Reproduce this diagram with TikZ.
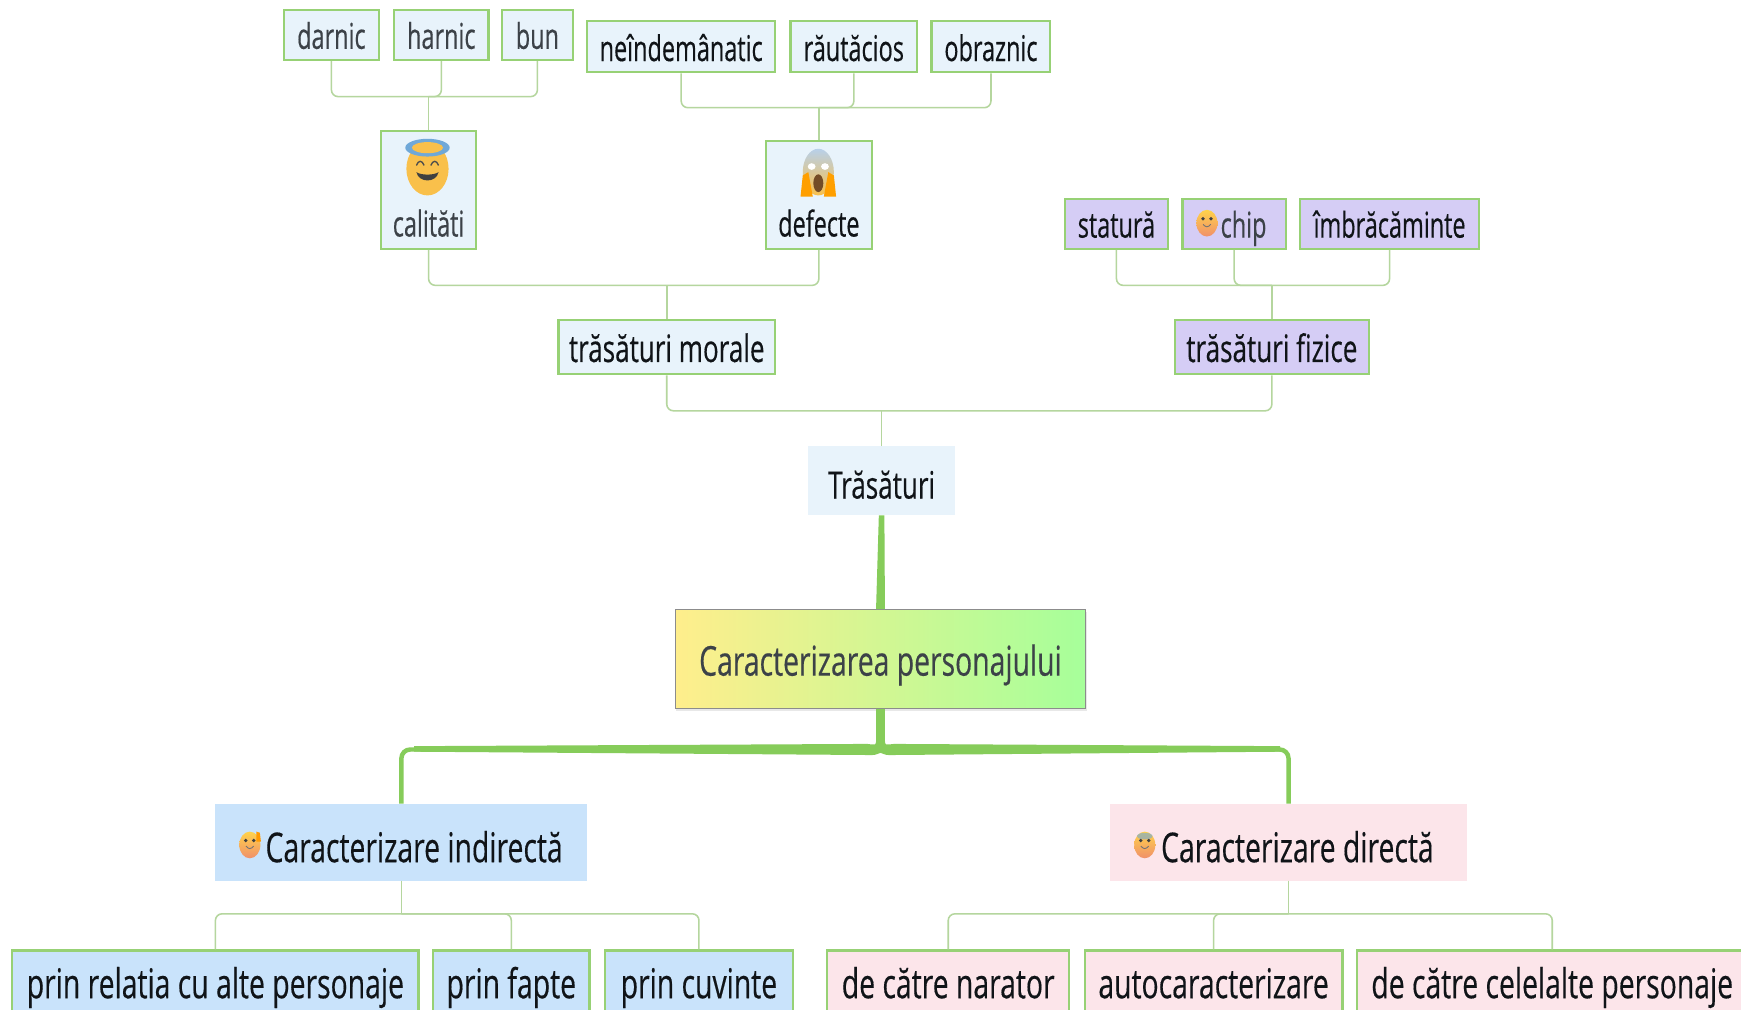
\documentclass[tikz,border=0pt]{standalone}
\usepackage{fontspec}
\setmainfont{Open Sans}
\newfontfamily\fsmall{Open Sans}[FakeStretch=0.66,FakeBold=0.35]
\newfontfamily\fbig{Open Sans}[FakeStretch=0.69,FakeBold=0.35]
\usetikzlibrary{calc,shadows}
\definecolor{paleblue}{HTML}{E8F3FB}
\definecolor{midblue}{HTML}{C9E3FB}
\definecolor{palepink}{HTML}{FCE5EA}
\definecolor{lilac}{HTML}{D5CDF5}
\definecolor{edgegreen}{HTML}{97D175}
\definecolor{thingreen}{HTML}{B5D69E}
\definecolor{trunkgreen}{HTML}{86CC5A}
\definecolor{inkdark}{HTML}{101418}
\definecolor{inksoft}{HTML}{3C4248}
\definecolor{facetop}{HTML}{FFD24A}
\definecolor{facebot}{HTML}{F0906A}
\definecolor{halofill}{HTML}{F9C04B}
\definecolor{haloblue}{HTML}{6FA8D8}
\definecolor{hood}{HTML}{B8D0EA}
\definecolor{gradleft}{HTML}{FFEE8C}
\definecolor{gradmid}{HTML}{D8F594}
\definecolor{gradright}{HTML}{A6FF9A}
\tikzset{
  x=1pt,y=-1pt,
  box/.style={draw=edgegreen,line width=2pt,inner sep=0pt,text depth=10pt,text=inkdark,align=center},
  plain/.style={inner sep=0pt,text depth=10pt,text=inkdark,align=center},
  small/.style={font=\fsmall\fontsize{32}{36}\selectfont},
  medium/.style={font=\fbig\fontsize{34}{38}\selectfont},
  big/.style={font=\fbig\fontsize{37}{42}\selectfont},
  conn/.style={draw=thingreen,line width=1.4pt,rounded corners=6pt},
  trunk/.style={draw=trunkgreen,line width=4pt,rounded corners=8pt},
  taper/.style={fill=trunkgreen,draw=none},
}
\newcommand{\ballface}[2]{%
  \shade[top color=facetop,bottom color=facebot] (#1) ellipse[x radius=9.5,y radius=12];
  \fill[black!75] ($(#1)+(-3.6,-4)$) circle[radius=1.7] ($(#1)+(3.6,-4)$) circle[radius=1.7];
  \draw[black!55,line width=.8pt] ($(#1)+(-3.5,1)$) .. controls ($(#1)+(-1,4)$) and ($(#1)+(1,4)$) .. ($(#1)+(3.5,1)$);
}
\begin{document}
\begin{tikzpicture}
\useasboundingbox (0,0) rectangle (1568,909.6);
\fill[white] (0,0) rectangle (1568,909.6);
% buses
\coordinate (busA) at (386,87);
\coordinate (busB) at (737.5,97);
\coordinate (busC) at (600.5,257);
\coordinate (busD) at (1145.5,257);
\coordinate (busE) at (794,370);
\coordinate (busF) at (361.5,823);
\coordinate (busG) at (1160.5,823);
% top leaves
\node[box,small,text height=35pt,fill=paleblue,text=inksoft,minimum width=85,minimum height=45] (darnic) at (298.5,31.5) {darnic};
\node[box,small,text height=35pt,fill=paleblue,text=inksoft,minimum width=85,minimum height=45] (harnic) at (397.5,31.5) {harnic};
\node[box,small,text height=35pt,fill=paleblue,text=inksoft,minimum width=64,minimum height=45] (bun) at (484,31.5) {bun};
\node[box,small,text height=36pt,fill=paleblue,minimum width=169,minimum height=46] (neind) at (613.5,42) {neîndemânatic};
\node[box,small,text height=36pt,fill=paleblue,minimum width=114,minimum height=46] (raut) at (769,42) {răutăcios};
\node[box,small,text height=36pt,fill=paleblue,minimum width=107,minimum height=46] (obraz) at (892.5,42) {obraznic};
\node[box,small,fill=paleblue,text=inksoft,minimum width=86,minimum height=106,text height=95pt,text depth=11pt] (calitati) at (386,171) {calităti};
\node[box,small,fill=paleblue,minimum width=95,minimum height=97,text height=86pt,text depth=11pt] (defecte) at (737.5,175.5) {defecte};
\node[box,small,text height=35pt,fill=lilac,minimum width=93,minimum height=45] (statura) at (1005.5,201.5) {statură};
\node[box,small,text height=35pt,fill=lilac,text=inksoft,minimum width=93,minimum height=45] (chip) at (1111.5,201.5) {\hspace*{17pt}chip};
\node[box,small,text height=35pt,fill=lilac,minimum width=161,minimum height=45] (imbr) at (1251.5,201.5) {îmbrăcăminte};
\node[box,medium,text height=37pt,fill=paleblue,minimum width=195,minimum height=49] (morale) at (600.5,312.5) {trăsături morale};
\node[box,medium,text height=37pt,fill=lilac,minimum width=175,minimum height=49] (fizice) at (1145.5,312.5) {trăsături fizice};
\node[plain,medium,text height=42pt,fill=paleblue,minimum width=132,minimum height=62] (trasaturi) at (794,433) {Trăsături};
\node[draw=black!45,line width=.8pt,inner sep=0pt,left color=gradleft,middle color=gradmid,right color=gradright,
  drop shadow={opacity=.18,shadow xshift=1pt,shadow yshift=-2pt},text=inksoft,text height=40pt,text depth=10pt,big,minimum width=370,minimum height=89] (central) at (793,593.5) {Caracterizarea personajului};
\node[plain,big,text height=46pt,fill=midblue,minimum width=335,minimum height=69] (indirect) at (361.5,758.5) {\hspace*{23pt}Caracterizare indirectă};
\node[plain,big,text height=46pt,fill=palepink,minimum width=321,minimum height=69] (direct) at (1160.5,758.5) {\hspace*{16pt}Caracterizare directă};
\node[box,big,text height=32pt,fill=midblue,minimum width=366,minimum height=64] (relatia) at (194,888) {prin relatia cu alte personaje};
\node[box,big,text height=32pt,fill=midblue,minimum width=141,minimum height=64] (fapte) at (460.5,888) {prin fapte};
\node[box,big,text height=32pt,fill=midblue,minimum width=169,minimum height=64] (cuvinte) at (629.5,888) {prin cuvinte};
\node[box,big,text height=32pt,fill=palepink,minimum width=218,minimum height=64] (narator) at (854,888) {de către narator};
\node[box,big,text height=32pt,fill=palepink,minimum width=232,minimum height=64] (auto) at (1093,888) {autocaracterizare};
\node[box,big,text height=32pt,fill=palepink,minimum width=352,minimum height=64] (celelalte) at (1398,888) {de către celelalte personaje};
\draw[conn] (darnic.south) |- (busA) -| (bun.south);
\draw[conn] (harnic.south) |- (busA);
\draw[conn] (calitati.north) -- (busA);
\draw[conn] (neind.south) |- (busB) -| (obraz.south);
\draw[conn] (raut.south) |- (busB);
\draw[conn] (defecte.north) -- (busB);
\draw[conn] (calitati.south) |- (busC) -| (defecte.south);
\draw[conn] (morale.north) -- (busC);
\draw[conn] (statura.south) |- (busD) -| (imbr.south);
\draw[conn] (chip.south) |- (busD);
\draw[conn] (fizice.north) -- (busD);
\draw[conn] (morale.south) |- (busE) -| (fizice.south);
\draw[conn] (trasaturi.north) -- (busE);
\draw[conn] (indirect.south) -- (busF);
\draw[conn] (relatia.north) |- (busF) -| (cuvinte.north);
\draw[conn] (fapte.north) |- (busF);
\draw[conn] (direct.south) -- (busG);
\draw[conn] (narator.north) |- (busG) -| (celelalte.north);
\draw[conn] (auto.north) |- (busG);
% thick branches
\coordinate (hub) at (793,675);
\draw[trunk] (indirect.north) |- (hub);
\draw[trunk] (direct.north) |- (hub);
\fill[taper] ($(trasaturi.south)+(-2.5,0)$) -- ($(trasaturi.south)+(2.5,0)$) -- ($(central.north)+(4,0)$) -- ($(central.north)+(-4,0)$) -- cycle;
\fill[taper] ($(central.south)+(-4,0)$) -- ($(central.south)+(4,0)$) -- ($(hub)+(4,-8)$) .. controls ($(hub)+(4,-4)$) .. ($(hub)+(12,-5)$) -- ($(hub)+(360,-3)$) -- ($(hub)+(360,2)$) -- ($(hub)+(10,5)$) .. controls ($(hub)+(5,5)$) .. ($(hub)+(0,3)$) .. controls ($(hub)+(-5,5)$) .. ($(hub)+(-10,5)$) -- ($(hub)+(-420,2)$) -- ($(hub)+(-420,-3)$) -- ($(hub)+(-12,-5)$) .. controls ($(hub)+(-4,-4)$) .. ($(hub)+(-4,-8)$) -- cycle;
% halo face
\fill[halofill] (385,152) ellipse[x radius=19,y radius=24];
\fill[haloblue] (385,133) ellipse[x radius=20,y radius=8];
\fill[halofill] (385,133) ellipse[x radius=14,y radius=5];
\draw[black!70,line width=1.2pt] (375,149) .. controls (377,144) and (380,144) .. (382,149);
\draw[black!70,line width=1.2pt] (388,149) .. controls (390,144) and (393,144) .. (395,149);
\fill[black!75] (375,155) .. controls (379,158) and (391,158) .. (395,155) .. controls (393,165) and (377,165) .. cycle;
% scream face
\shade[top color=hood,bottom color=halofill] (737,155) ellipse[x radius=14,y radius=21];
\fill[white] (731,150) ellipse[x radius=3.5,y radius=3] (743,150) ellipse[x radius=3.5,y radius=3];
\fill[orange!75!yellow] (721,177) -- (723,158) -- (728,155) -- (732,177) -- cycle;
\fill[orange!75!yellow] (753,177) -- (751,158) -- (746,155) -- (742,177) -- cycle;
\fill[brown!60!black] (737,165) ellipse[x radius=4.5,y radius=8];
% small faces
\ballface{1087,201}{}
\ballface{225,761}{}
\fill[orange!80!yellow] (231,749) -- (234,750) -- (235,758) -- (231,758) -- cycle;
\ballface{1031,761}{}
\fill[haloblue,opacity=.6] (1031,753) ellipse[x radius=7,y radius=3];
\end{tikzpicture}
\end{document}
